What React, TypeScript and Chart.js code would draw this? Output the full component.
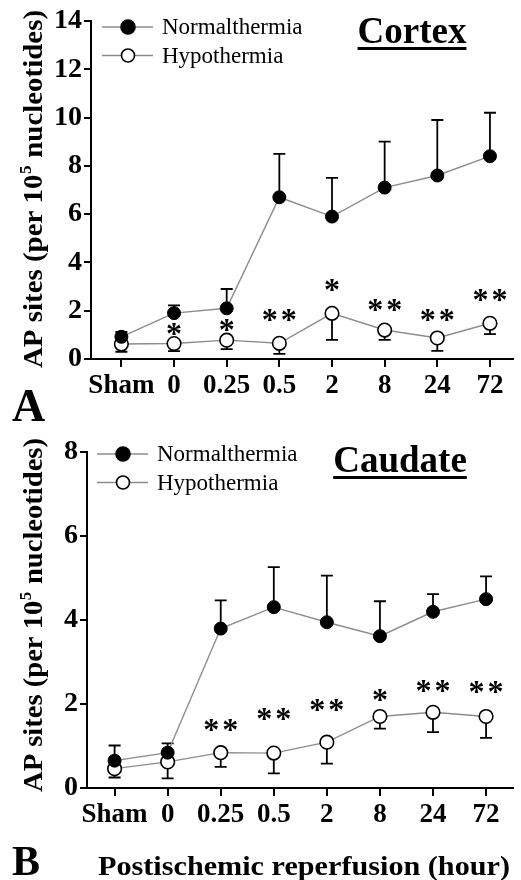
import React, { useEffect, useRef } from "react";
import { Chart, registerables } from "chart.js";
Chart.register(...registerables);

// ---------- data ----------
const categories = ["Sham", "0", "0.25", "0.5", "2", "8", "24", "72"];

const cortexNormo = [0.92, 1.9, 2.1, 6.7, 5.9, 7.1, 7.6, 8.4];
const cortexNormoErr = [0.2, 0.32, 0.8, 1.8, 1.6, 1.9, 2.3, 1.8];
const cortexHypo = [0.62, 0.64, 0.78, 0.65, 1.89, 1.2, 0.87, 1.48];
const cortexHypoErr = [0.32, 0.31, 0.37, 0.44, 1.1, 0.41, 0.53, 0.45];
const cortexSig = ["", "*", "*", "**", "*", "**", "**", "**"];
const cortexSigY = [null, 1.24, 1.4, 1.82, 3.06, 2.24, 1.82, 2.65];

const caudNormo = [0.65, 0.84, 3.79, 4.3, 3.94, 3.61, 4.19, 4.49];
const caudNormoErr = [0.36, 0.22, 0.67, 0.95, 1.11, 0.83, 0.42, 0.54];
const caudHypo = [0.46, 0.62, 0.84, 0.83, 1.09, 1.7, 1.8, 1.7];
const caudHypoErr = [0.21, 0.39, 0.34, 0.48, 0.51, 0.29, 0.47, 0.51];
const caudSig = ["", "", "**", "**", "**", "*", "**", "**"];
const caudSigY = [null, null, 1.49, 1.75, 1.98, 2.2, 2.42, 2.39];

const legendLabels = ["Normalthermia", "Hypothermia"];
const yTitleMain = "AP sites (per 10";
const yTitleSup = "5";
const yTitleEnd = " nucleotides)";
const xTitleText = "Postischemic reperfusion (hour)";

// ---------- styles ----------
const SERIF = '"Liberation Serif", "Times New Roman", serif';
const LINE_GREY = "#8c8c8c";

type Panel = {
  normo: number[];
  normoErr: number[];
  hypo: number[];
  hypoErr: number[];
  sig: string[];
  sigY: (number | null)[];
  yMax: number;
  yStep: number;
  xMin: number;
  xMax: number;
  height: number;
  areaLeft: number;
  areaTop: number;
  areaBottom: number;
  padRight: number;
  title: string;
  titleX: number;
  titleBase: number;
  legendX: number;
  legendY: number;
  letter: string;
  letterX: number;
  letterBase: number;
  letterSize: number;
  yTitleX: number;
  yTitleY: number;
  yTitleLen: number;
  xTitle: boolean;
};

function fitText(ctx: CanvasRenderingContext2D, text: string, x: number, y: number, width: number) {
  const w = ctx.measureText(text).width;
  ctx.save();
  ctx.translate(x, y);
  ctx.scale(width / w, 1);
  ctx.fillText(text, 0, 0);
  ctx.restore();
}

function makePlugin(p: Panel) {
  return {
    id: "panelDecor",
    beforeDatasetsDraw(chart: any) {
      const ctx = chart.ctx as CanvasRenderingContext2D;
      const xs = chart.scales.x;
      const ys = chart.scales.y;
      ctx.save();
      ctx.strokeStyle = "#000";
      ctx.lineWidth = 1.8;
      const cap = 6;
      const bar = (i: number, v: number, e: number) => {
        const x = xs.getPixelForValue(i);
        const y0 = ys.getPixelForValue(v);
        const y1 = ys.getPixelForValue(v + e);
        ctx.beginPath();
        ctx.moveTo(x, y0);
        ctx.lineTo(x, y1);
        ctx.moveTo(x - cap, y1);
        ctx.lineTo(x + cap, y1);
        ctx.stroke();
      };
      p.normo.forEach((v, i) => bar(i, v, p.normoErr[i]));
      p.hypo.forEach((v, i) => bar(i, v, -p.hypoErr[i]));
      ctx.restore();
    },
    afterDraw(chart: any) {
      const ctx = chart.ctx as CanvasRenderingContext2D;
      const xs = chart.scales.x;
      const ys = chart.scales.y;
      ctx.save();
      ctx.fillStyle = "#000";

      // significance asterisks
      ctx.font = `bold 32px ${SERIF}`;
      const m = ctx.measureText("*");
      const off = (m.actualBoundingBoxAscent - m.actualBoundingBoxDescent) / 2;
      ctx.textAlign = "center";
      ctx.textBaseline = "alphabetic";
      p.sig.forEach((s, i) => {
        const sy = p.sigY[i];
        if (!s || sy == null) return;
        const cx = xs.getPixelForValue(i);
        const cy = ys.getPixelForValue(sy);
        const n = s.length;
        const gap = 19;
        for (let k = 0; k < n; k++) {
          const x = cx + (k - (n - 1) / 2) * gap;
          ctx.fillText("*", x, cy + off);
        }
      });

      // legend
      const rows = [
        { fill: "#000", r: 7 },
        { fill: "#fff", r: 6.5 },
      ];
      rows.forEach((row, k) => {
        const y = p.legendY + k * 28.5;
        const x0 = p.legendX;
        ctx.strokeStyle = LINE_GREY;
        ctx.lineWidth = 1.4;
        ctx.beginPath();
        ctx.moveTo(x0, y);
        ctx.lineTo(x0 + 51, y);
        ctx.stroke();
        ctx.beginPath();
        ctx.arc(x0 + 26, y, row.r, 0, Math.PI * 2);
        ctx.fillStyle = row.fill;
        ctx.fill();
        ctx.strokeStyle = "#000";
        ctx.lineWidth = 1.6;
        ctx.stroke();
        ctx.fillStyle = "#000";
        ctx.font = `23px ${SERIF}`;
        ctx.textAlign = "left";
        ctx.textBaseline = "middle";
        ctx.fillText(legendLabels[k], x0 + 60, y + 1);
      });

      // title with underline
      ctx.font = `bold 37px ${SERIF}`;
      ctx.textAlign = "center";
      ctx.textBaseline = "alphabetic";
      ctx.fillText(p.title, p.titleX, p.titleBase);
      const tw = ctx.measureText(p.title).width;
      ctx.fillRect(p.titleX - tw / 2, p.titleBase + 4, tw, 3);

      // panel letter
      ctx.font = `bold ${p.letterSize}px ${SERIF}`;
      ctx.textAlign = "left";
      ctx.fillText(p.letter, p.letterX, p.letterBase);

      // y axis title with superscript (rotated)
      ctx.save();
      ctx.translate(p.yTitleX, p.yTitleY);
      ctx.rotate(-Math.PI / 2);
      const fs = 27;
      const fMain = `bold ${fs}px ${SERIF}`;
      const fSup = `bold ${Math.round(fs * 0.6)}px ${SERIF}`;
      ctx.font = fMain;
      const w1 = ctx.measureText(yTitleMain).width;
      const w3 = ctx.measureText(yTitleEnd).width;
      ctx.font = fSup;
      const w2 = ctx.measureText(yTitleSup).width + 1;
      const total = w1 + w2 + w3;
      const sc = p.yTitleLen / total;
      ctx.scale(sc, 1);
      let x = -total / 2;
      ctx.textAlign = "left";
      ctx.textBaseline = "alphabetic";
      ctx.font = fMain;
      ctx.fillText(yTitleMain, x, 0);
      x += w1;
      ctx.font = fSup;
      ctx.fillText(yTitleSup, x + 0.5, -fs * 0.42);
      x += w2;
      ctx.font = fMain;
      ctx.fillText(yTitleEnd, x, 0);
      ctx.restore();

      // x axis title
      if (p.xTitle) {
        ctx.font = `bold 28px ${SERIF}`;
        ctx.textAlign = "left";
        ctx.textBaseline = "alphabetic";
        fitText(ctx, xTitleText, 98, p.height - 5, 412);
      }
      ctx.restore();
    },
  };
}

function buildChart(canvas: HTMLCanvasElement, p: Panel) {
  const tickFont = { family: SERIF, size: 27, weight: "bold" as const };
  return new Chart(canvas, {
    type: "scatter",
    data: {
      datasets: [
        {
          label: legendLabels[0],
          data: p.normo.map((y, i) => ({ x: i, y })),
          showLine: true,
          borderColor: LINE_GREY,
          borderWidth: 1.4,
          pointRadius: 6.5,
          pointBackgroundColor: "#000",
          pointBorderColor: "#000",
          pointBorderWidth: 1,
        },
        {
          label: legendLabels[1],
          data: p.hypo.map((y, i) => ({ x: i, y })),
          showLine: true,
          borderColor: LINE_GREY,
          borderWidth: 1.4,
          pointRadius: 6.8,
          pointBackgroundColor: "#fff",
          pointBorderColor: "#000",
          pointBorderWidth: 1.6,
        },
      ],
    },
    options: {
      animation: false,
      responsive: false,
      layout: { padding: { left: 0, right: p.padRight, top: p.areaTop, bottom: 0 } },
      plugins: { legend: { display: false }, tooltip: { enabled: false } },
      scales: {
        x: {
          type: "linear",
          min: p.xMin,
          max: p.xMax,
          afterBuildTicks: (s: any) => {
            s.ticks = categories.map((_, i) => ({ value: i }));
          },
          afterFit: (s: any) => {
            s.height = p.height - p.areaBottom;
          },
          ticks: {
            autoSkip: false,
            maxRotation: 0,
            color: "#000",
            font: tickFont,
            padding: 3,
            callback: (v: any) => categories[v as number] ?? "",
          },
          grid: { drawOnChartArea: false, drawTicks: true, tickLength: 8, color: "#000", lineWidth: 2 },
          border: { display: true, color: "#000", width: 2 },
        },
        y: {
          min: 0,
          max: p.yMax,
          afterBuildTicks: (s: any) => {
            const t = [];
            for (let v = 0; v <= p.yMax; v += p.yStep) t.push({ value: v });
            s.ticks = t;
          },
          afterFit: (s: any) => {
            s.width = p.areaLeft;
          },
          ticks: { color: "#000", font: { family: SERIF, size: 28, weight: "bold" as const }, padding: 2 },
          grid: { drawOnChartArea: false, drawTicks: true, tickLength: 7, color: "#000", lineWidth: 2 },
          border: { display: true, color: "#000", width: 2 },
        },
      },
    },
    plugins: [makePlugin(p)],
  });
}

const topPanel: Panel = {
  normo: cortexNormo,
  normoErr: cortexNormoErr,
  hypo: cortexHypo,
  hypoErr: cortexHypoErr,
  sig: cortexSig,
  sigY: cortexSigY,
  yMax: 14,
  yStep: 2,
  xMin: -0.577,
  xMax: 7.43,
  height: 430,
  areaLeft: 91,
  areaTop: 21,
  areaBottom: 359,
  padRight: 0,
  title: "Cortex",
  titleX: 412,
  titleBase: 43,
  legendX: 102,
  legendY: 27,
  letter: "A",
  letterX: 12,
  letterBase: 421,
  letterSize: 46,
  yTitleX: 42,
  yTitleY: 189,
  yTitleLen: 358,
  xTitle: false,
};

const bottomPanel: Panel = {
  normo: caudNormo,
  normoErr: caudNormoErr,
  hypo: caudHypo,
  hypoErr: caudHypoErr,
  sig: caudSig,
  sigY: caudSigY,
  yMax: 8,
  yStep: 2,
  xMin: -0.52,
  xMax: 7.5,
  height: 450,
  areaLeft: 87,
  areaTop: 21.5,
  areaBottom: 358,
  padRight: 3,
  title: "Caudate",
  titleX: 400,
  titleBase: 42,
  legendX: 97,
  legendY: 24,
  letter: "B",
  letterX: 12,
  letterBase: 445,
  letterSize: 42,
  yTitleX: 42,
  yTitleY: 185,
  yTitleLen: 354,
  xTitle: true,
};

export default function App() {
  const topRef = useRef<HTMLCanvasElement>(null);
  const botRef = useRef<HTMLCanvasElement>(null);
  useEffect(() => {
    const c1 = buildChart(topRef.current!, topPanel);
    const c2 = buildChart(botRef.current!, bottomPanel);
    return () => {
      c1.destroy();
      c2.destroy();
    };
  }, []);
  return (
    <div style={{ position: "absolute", left: 0, top: 0, width: 521, height: 880, background: "#fff" }}>
      <canvas ref={topRef} width={521} height={430} style={{ display: "block", position: "absolute", left: 0, top: 0 }} />
      <canvas ref={botRef} width={521} height={450} style={{ display: "block", position: "absolute", left: 0, top: 430 }} />
    </div>
  );
}
